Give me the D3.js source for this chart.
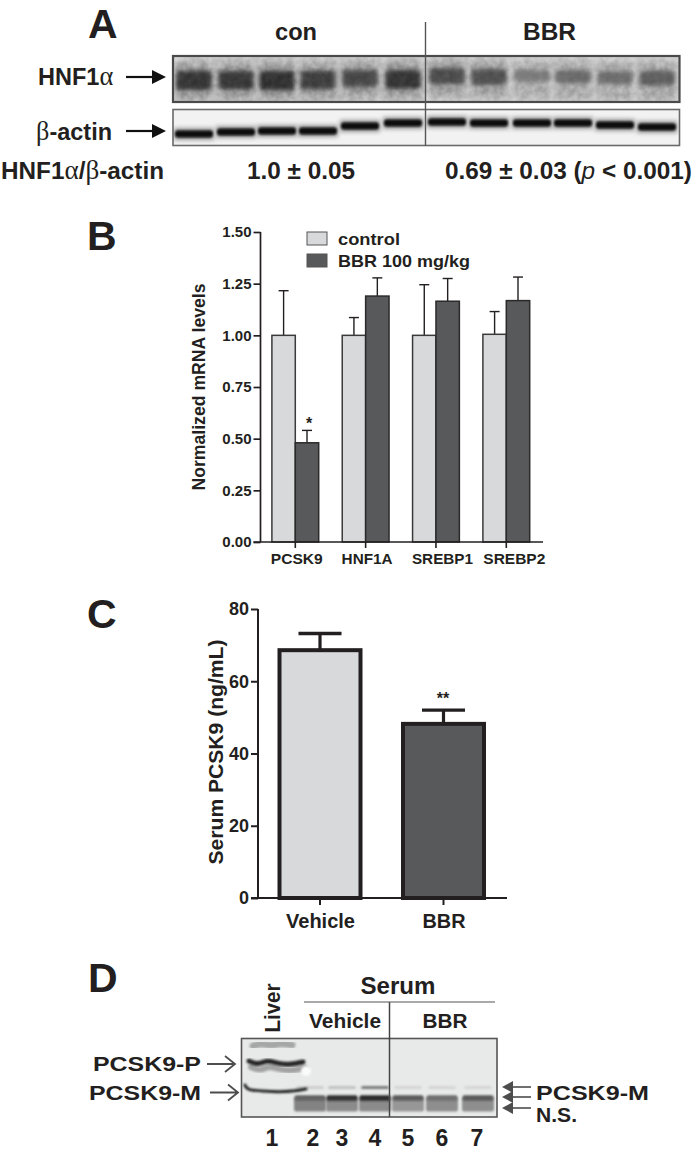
<!DOCTYPE html>
<html><head><meta charset="utf-8">
<script src="https://cdnjs.cloudflare.com/ajax/libs/d3/7.8.5/d3.min.js"></script>
<style>html,body{margin:0;padding:0;background:#fff}svg{display:block}
text{font-family:"Liberation Sans",Arial,sans-serif;font-weight:700;fill:#231f20}</style>
</head><body><div id="chart"></div>
<script>
// ---- Panel B data
const mrnaGenes = ["PCSK9","HNF1A","SREBP1","SREBP2"];
const mrnaControl = [1.00,1.00,1.00,1.005];
const mrnaControlTop = [1.216,1.086,1.245,1.115];
const mrnaBBR = [0.48,1.19,1.165,1.168];
const mrnaBBRTop = [0.54,1.278,1.275,1.282];
const mrnaTicks = [0,0.25,0.5,0.75,1,1.25,1.5];
const mrnaLabelShift = [1.5,1.5,6.5,8];
const mrnaLabelWidth = [52,51,61,62];
// ---- Panel C data
const serumGroups = ["Vehicle","BBR"];
const serumValues = [68.6,48.2];
const serumTops = [73.2,52];
const serumTicks = [0,20,40,60,80];
// ---- Panel A blot: lane centres (px along the membrane), band strength, band position
const hnfLanes = [194,236,277,318,360,403,447,489,532,573,615,657];
const hnfStrength = [0.92,0.88,0.94,0.84,0.76,0.9,0.72,0.68,0.36,0.48,0.46,0.58];
const hnfRow = [80,80,80,80,79,79,77,78,79,79,80,80];
const actinRow = [134,132,131,131,126,123,122,123,123,123,125,127];
// ---- Panel D blot
const dLanes = [310,342,375,408,442,478];
const dUpperStrength = [0.62,0.88,0.92,0.66,0.56,0.66];
const dLowerStrength = [0.55,0.5,0.5,0.42,0.48,0.48];
const dFaintStrength = [0.06,0.12,0.5,0.02,0.02,0.02];
const laneNumbers = ["1","2","3","4","5","6","7"];
const laneNumberX = [272,313,342,375,408,442,477];
const liverTopBand = [[253,1046],[262,1043],[271,1046],[280,1043],[292,1045]];
const liverPBand = [[249,1061],[258,1065],[267,1060],[276,1063],[288,1065],[303,1062]];
const liverMBand = [[245,1085],[247,1090],[262,1091],[280,1092],[296,1091],[306,1089]];

const W=693,H=1157,ink="#231f20";
const svg=d3.select("#chart").append("svg").attr("width",W).attr("height",H);
const defs=svg.append("defs");
[["b1",1.15],["b2",2.2],["b3",4]].forEach(([id,s])=>{
  defs.append("filter").attr("id",id).attr("x","-40%").attr("y","-80%").attr("width","180%").attr("height","260%")
    .append("feGaussianBlur").attr("stdDeviation",s);
});
const mott=defs.append("filter").attr("id","mott").attr("x",0).attr("y",0).attr("width","100%").attr("height","100%");
mott.append("feTurbulence").attr("type","fractalNoise").attr("baseFrequency",0.16).attr("numOctaves",2).attr("seed",4);
mott.append("feColorMatrix").attr("values","0 0 0 0 1  0 0 0 0 1  0 0 0 0 1  1.6 0 0 0 -0.45");
const clip=(id,x,y,w,h)=>defs.append("clipPath").attr("id",id).append("rect").attr("x",x).attr("y",y).attr("width",w).attr("height",h);
clip("cA1",172,55,508,47);clip("cA2",172,109,508,36);clip("cD",241,1038,256,79);

function txt(s,x,y,size,opt={}){
  const t=svg.append("text").attr("x",x).attr("y",y).attr("font-size",size)
    .attr("text-anchor",opt.anchor||"start");
  if(opt.rotate) t.attr("transform",`rotate(-90 ${x} ${y})`);
  if(opt.len) t.attr("textLength",opt.len).attr("lengthAdjust","spacingAndGlyphs");
  (Array.isArray(s)?s:[[s]]).forEach(([c,k])=>{
    const sp=t.append("tspan").text(c);
    if(k==="g") sp.style("font-family","'Liberation Serif',serif").style("font-weight",400).style("font-size",(size*1.12)+"px");
    if(k==="i") sp.style("font-style","italic").style("font-weight",400);
  });
  return t;
}
// Panel letters
[["A",88,38],["B",87,250],["C",87,628],["D",88,992]].forEach(([l,x,y])=>txt(l,x,y,41));

// ===== Panel A
const gA=svg.append("g");
const a1=gA.append("g").attr("clip-path","url(#cA1)");
a1.append("rect").attr("x",172).attr("y",55).attr("width",508).attr("height",47).attr("fill","#cfcfcf");
const grayHNF=d3.scaleLinear([0,1],["#a4a4a4","#262626"]);
const haloHNF=d3.scaleLinear([0,1],["#b0b0b0","#8a8a8a"]);
a1.selectAll("rect.halo").data(hnfLanes).join("rect").attr("class","halo")
  .attr("x",d=>d-19).attr("width",38).attr("y",(d,i)=>hnfRow[i]-19).attr("height",40)
  .attr("fill",(d,i)=>haloHNF(hnfStrength[i])).attr("filter","url(#b3)");
a1.append("rect").attr("x",172).attr("y",55).attr("width",508).attr("height",47).attr("filter","url(#mott)").attr("opacity",0.3);
a1.selectAll("rect.core").data(hnfLanes).join("rect").attr("class","core")
  .attr("x",d=>d-17.5).attr("width",35).attr("y",(d,i)=>hnfRow[i]-9).attr("height",(d,i)=>7+13*hnfStrength[i]).attr("rx",3)
  .attr("fill",(d,i)=>grayHNF(hnfStrength[i])).attr("filter","url(#b2)");
a1.append("rect").attr("x",172).attr("y",55).attr("width",508).attr("height",47).attr("filter","url(#mott)").attr("opacity",0.08);
const a2=gA.append("g").attr("clip-path","url(#cA2)");
a2.append("rect").attr("x",172).attr("y",109).attr("width",508).attr("height",36).attr("fill","#f2f2f2");
a2.selectAll("rect.glow").data(hnfLanes).join("rect").attr("class","glow")
  .attr("x",d=>d-20).attr("width",40).attr("y",(d,i)=>actinRow[i]-6).attr("height",12)
  .attr("fill","#9a9a9a").attr("filter","url(#b2)");
a2.selectAll("rect.band").data(hnfLanes).join("rect").attr("class","band")
  .attr("x",d=>d-19).attr("width",38).attr("y",(d,i)=>actinRow[i]-3.5).attr("height",7).attr("rx",3)
  .attr("fill","#0d0d0d").attr("filter","url(#b1)");
gA.append("rect").attr("x",173).attr("y",56).attr("width",506.5).attr("height",46).attr("fill","none").attr("stroke","#4a4a4a").attr("stroke-width",2.2);
gA.append("rect").attr("x",173).attr("y",109.5).attr("width",506.5).attr("height",36).attr("fill","none").attr("stroke","#6a6a6a").attr("stroke-width",1.6);
gA.append("line").attr("x1",425.5).attr("x2",425.5).attr("y1",22).attr("y2",146).attr("stroke","#555").attr("stroke-width",1.4);
function solidArrow(x1,x2,y,col,lw,hl,hw){
  const dir=x2>x1?1:-1;
  svg.append("line").attr("x1",x1).attr("x2",x2-dir*hl*0.8).attr("y1",y).attr("y2",y).attr("stroke",col).attr("stroke-width",lw);
  svg.append("path").attr("d",d3.line()([[x2,y],[x2-dir*hl,y-hw/2],[x2-dir*hl,y+hw/2]])+"Z").attr("fill",col);
}
solidArrow(126,166,77,"#111",2.2,14,14);
solidArrow(126,166,131,"#111",2.2,14,14);
txt("con",296,40,23,{anchor:"middle",len:42});
txt("BBR",549.5,40,23,{anchor:"middle",len:53});
txt([["HNF1"],["α","g"]],38,85,23.5);
txt([["β","g"],["-actin"]],36,140,23.5);
txt([["HNF1"],["α","g"],["/"],["β","g"],["-actin"]],1,179,23.5,{len:163});
txt("1.0 ± 0.05",247,179,23.5,{len:108});
txt([["0.69 ± 0.03 ("],["p","i"],[" < 0.001)"]],445,179,23.5,{len:247});

// ===== Panel B
const bY=d3.scaleLinear([0,1.5],[542,232]);
const bCentre=d3.scaleLinear([0,3],[295.3,506.3]);
const barW=23.4, gB=svg.append("g");
const drawErr=(g,x,v,top,cap,lw)=>{
  g.append("line").attr("x1",x).attr("x2",x).attr("y1",bY(v)).attr("y2",bY(top)).attr("stroke",ink).attr("stroke-width",lw);
  g.append("line").attr("x1",x-cap).attr("x2",x+cap).attr("y1",bY(top)).attr("y2",bY(top)).attr("stroke",ink).attr("stroke-width",lw);
};
mrnaGenes.forEach((g,i)=>{
  const c=bCentre(i);
  drawErr(gB,c-barW/2,mrnaControl[i],mrnaControlTop[i],5,1.4);
  drawErr(gB,c+barW/2,mrnaBBR[i],mrnaBBRTop[i],5,1.4);
  gB.append("rect").attr("x",c-barW).attr("y",bY(mrnaControl[i])).attr("width",barW).attr("height",bY(0)-bY(mrnaControl[i]))
    .attr("fill","#d8d9db").attr("stroke","#3a3a3a").attr("stroke-width",1.5);
  gB.append("rect").attr("x",c).attr("y",bY(mrnaBBR[i])).attr("width",barW).attr("height",bY(0)-bY(mrnaBBR[i]))
    .attr("fill","#58595b").attr("stroke","#2a2a2a").attr("stroke-width",1.5);
});
const axB=svg.append("g").attr("transform","translate(260.5,0)")
  .call(d3.axisLeft(bY).tickValues(mrnaTicks).tickFormat(d3.format(".2f")).tickSize(7).tickPadding(2));
axB.selectAll("path,line").attr("stroke",ink).attr("stroke-width",1.7);
axB.select("path").attr("d","M0,232V542");
axB.selectAll("text").attr("font-size",15).attr("fill",ink).style("font-family","'Liberation Sans'").style("font-weight",700);
svg.append("line").attr("x1",253.5).attr("x2",543).attr("y1",542).attr("y2",542).attr("stroke",ink).attr("stroke-width",1.7);
mrnaGenes.forEach((g,i)=>{
  const c=bCentre(i);
  svg.append("line").attr("x1",c).attr("x2",c).attr("y1",542).attr("y2",548).attr("stroke",ink).attr("stroke-width",1.6);
  txt(g,c+mrnaLabelShift[i],564,15,{anchor:"middle",len:mrnaLabelWidth[i]});
});
txt("*",309,429,16,{anchor:"middle"});
txt("Normalized mRNA levels",205,387,18,{anchor:"middle",rotate:true,len:207});
[["control","#d8d9db",232,244],["BBR 100 mg/kg","#58595b",254,266]].forEach(([l,f,y,b],i)=>{
  svg.append("rect").attr("x",307).attr("y",y).attr("width",20).attr("height",13).attr("fill",f).attr("stroke","#555").attr("stroke-width",1);
  txt(l,338,b+1,17,{len:i?132:62});
});

// ===== Panel C
const cY=d3.scaleLinear([0,80],[898,609]);
const cX=d3.scalePoint(serumGroups,[320,443.5]);
const cW=81;
serumGroups.forEach((g,i)=>{
  const c=cX(g);
  svg.append("line").attr("x1",c).attr("x2",c).attr("y1",cY(serumValues[i])).attr("y2",cY(serumTops[i])).attr("stroke",ink).attr("stroke-width",3.2);
  svg.append("line").attr("x1",c-21.5).attr("x2",c+21.5).attr("y1",cY(serumTops[i])).attr("y2",cY(serumTops[i])).attr("stroke",ink).attr("stroke-width",3.4);
  svg.append("rect").attr("x",c-cW/2).attr("y",cY(serumValues[i])).attr("width",cW).attr("height",cY(0)-cY(serumValues[i]))
    .attr("fill",i?"#58595b":"#d8d9db").attr("stroke",ink).attr("stroke-width",4);
  svg.append("line").attr("x1",c).attr("x2",c).attr("y1",898).attr("y2",905).attr("stroke",ink).attr("stroke-width",2);
  txt(g,c+0.5,928,21,{anchor:"middle",len:i?43:69});
});
const axC=svg.append("g").attr("transform","translate(258,0)")
  .call(d3.axisLeft(cY).tickValues(serumTicks).tickSize(7).tickPadding(2));
axC.selectAll("path,line").attr("stroke",ink).attr("stroke-width",2);
axC.select("path").attr("d","M0,609V898");
axC.selectAll("text").attr("font-size",18).attr("fill",ink).style("font-family","'Liberation Sans'").style("font-weight",700);
svg.append("line").attr("x1",251).attr("x2",507).attr("y1",898).attr("y2",898).attr("stroke",ink).attr("stroke-width",2);
txt("**",443,704,16,{anchor:"middle"});
txt("Serum PCSK9 (ng/mL)",223,752,21,{anchor:"middle",rotate:true,len:225});

// ===== Panel D
const d0=svg.append("g").attr("clip-path","url(#cD)");
d0.append("rect").attr("x",241).attr("y",1038).attr("width",256).attr("height",79).attr("fill","#e8e9e9");
const grayD=d3.scaleLinear([0,1],["#d8d8d8","#1c1c1c"]);
const grayL=d3.scaleLinear([0,1],["#d8d8d8","#3e3e3e"]);
const bandD=(sel,xs,hw,yc,h,fill,f)=>sel.append("g").selectAll("rect").data(xs).join("rect")
  .attr("x",d=>d-hw).attr("width",hw*2).attr("y",yc-h/2).attr("height",h).attr("rx",2)
  .attr("fill",fill).attr("filter",f);
bandD(d0,dLanes,16,1104.5,14,(d,i)=>grayL(dLowerStrength[i]),"url(#b1)");
bandD(d0,dLanes,15.5,1098,5.5,(d,i)=>grayD(dUpperStrength[i]),"url(#b1)");
bandD(d0,dLanes,14,1087.5,3,(d,i)=>grayD(dFaintStrength[i]),"url(#b1)");
// liver lane
const wavy=d3.line().curve(d3.curveBasis);
const smear=(pts,col,w)=>d0.append("path").attr("d",wavy(pts)).attr("fill","none").attr("stroke",col).attr("stroke-width",w).attr("stroke-linecap","round").attr("filter","url(#b1)");
smear(liverTopBand,"#a6a6a6",7);
smear(liverPBand.map(([x,y])=>[x+2,y+6]),"#a2a2a2",6);
smear(liverPBand,"#262626",5);
smear(liverMBand,"#262626",3);
d0.append("circle").attr("cx",306).attr("cy",1071).attr("r",5).attr("fill","#fbfbfb").attr("filter","url(#b1)");
svg.append("rect").attr("x",241.5).attr("y",1038.5).attr("width",255.5).attr("height",78.5).attr("fill","none").attr("stroke","#555").attr("stroke-width",1.6);
svg.append("line").attr("x1",389.5).attr("x2",389.5).attr("y1",1002).attr("y2",1117).attr("stroke","#444").attr("stroke-width",1.5);
svg.append("line").attr("x1",304).attr("x2",495).attr("y1",1002).attr("y2",1002).attr("stroke","#555").attr("stroke-width",1.2);
txt("Serum",398,994,23,{anchor:"middle",len:75});
txt("Vehicle",345,1028,20,{anchor:"middle",len:72});
txt("BBR",445,1028,20,{anchor:"middle",len:45});
txt("Liver",280,1008,22,{anchor:"middle",rotate:true,len:49});
function openArrow(x1,x2,y){
  svg.append("path").attr("d",d3.line()([[x1,y],[x2,y]])+d3.line()([[x2-10,y-8],[x2,y],[x2-10,y+8]])).attr("fill","none").attr("stroke","#4d4d4d").attr("stroke-width",1.8);
}
openArrow(207,235,1064);openArrow(210,238,1092.5);
txt("PCSK9-P",93,1071,21,{len:108});
txt("PCSK9-M",89,1100,21,{len:112});
[1087,1097,1108].forEach(y=>solidArrow(531,502,y,"#4d4d4d",1.6,11,12));
txt("PCSK9-M",536,1100,21,{len:113});
txt("N.S.",536,1122,20,{len:41});
laneNumbers.forEach((n,i)=>txt(n,laneNumberX[i],1146,23,{anchor:"middle"}));
</script></body></html>
